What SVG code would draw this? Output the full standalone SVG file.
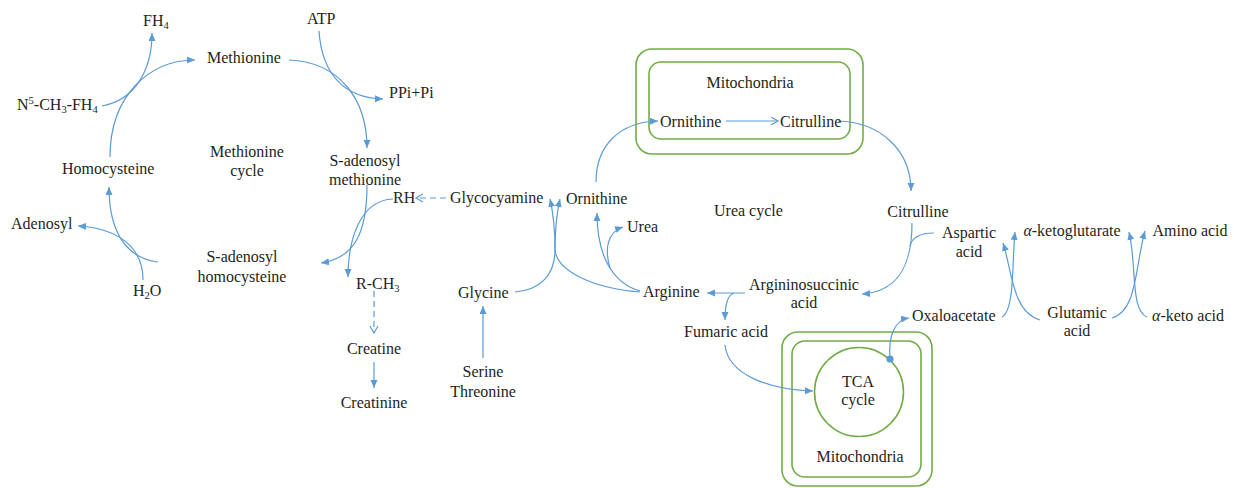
<svg xmlns="http://www.w3.org/2000/svg" width="1234" height="488" viewBox="0 0 1234 488">
<defs>
<style>
text{font-family:"Liberation Serif","Times New Roman",serif;font-size:16px;fill:#231f20}
.m{text-anchor:middle}
.c{fill:none;stroke:#5b9bd5;stroke-width:1.2}
.d{stroke-dasharray:6,4}
.g{fill:none;stroke:#70ad47;stroke-width:1.6}
.s{font-size:10.5px}
</style>
<marker id="a" markerUnits="userSpaceOnUse" markerWidth="9" markerHeight="8" refX="8" refY="3.5" orient="auto"><path d="M0,0 L8,3.5 L0,7 z" fill="#5b9bd5"/></marker>
<marker id="o" markerUnits="userSpaceOnUse" markerWidth="10" markerHeight="10" refX="8" refY="4.5" orient="auto"><path d="M1,0.5 L8,4.5 L1,8.5" fill="none" stroke="#5b9bd5" stroke-width="1.2"/></marker>
<marker id="dot" markerUnits="userSpaceOnUse" markerWidth="10" markerHeight="10" refX="5" refY="5" orient="auto"><circle cx="5" cy="5" r="3.6" fill="#5b9bd5"/></marker>
</defs>

<g id="mito-top">
<rect class="g" x="636" y="49" width="227" height="105" rx="16"/>
<rect class="g" x="649" y="62" width="201" height="77" rx="12"/>
<text class="m" x="750" y="88">Mitochondria</text>
</g>
<g id="mito-bottom">
<rect class="g" x="782" y="332" width="150" height="154" rx="16"/>
<rect class="g" x="792" y="341" width="129" height="136" rx="13"/>
<text class="m" x="860" y="462">Mitochondria</text>
</g>
<g id="tca">
<circle class="g" cx="859" cy="392" r="44.5"/>
<text class="m" x="858" y="387">TCA</text>
<text class="m" x="858" y="405">cycle</text>
</g>

<g id="connectors">
<path class="c" marker-end="url(#a)" d="M102,106 C135,100 152,70 152,33"/>
<path class="c" marker-end="url(#a)" d="M110,157 C110,95 150,60 195,60"/>
<path class="c" marker-end="url(#a)" d="M289,60 C340,62 367,100 367,148"/>
<path class="c" marker-end="url(#a)" d="M319,31 C322,75 345,98 383,99"/>
<path class="c" marker-end="url(#a)" d="M367,185 C367,232 355,258 321,263"/>
<path class="c" marker-end="url(#a)" d="M393,199 C360,200 348,240 348,277"/>
<path class="c d" marker-end="url(#o)" d="M446,198 L416,198"/>
<path class="c d" marker-end="url(#o)" d="M374,291 L374,333"/>
<path class="c" marker-end="url(#a)" d="M374,362 L374,388"/>
<path class="c" marker-end="url(#a)" d="M158,262 C125,258 109,230 109,187"/>
<path class="c" marker-end="url(#a)" d="M143,280 C143,245 115,228 78,226"/>
<path class="c" marker-end="url(#a)" d="M483,358 L483,306"/>
<path class="c" marker-end="url(#a)" d="M515,292 C540,290 555,275 555,250 C555,228 553,212 550,199"/>
<path class="c" marker-end="url(#a)" d="M640,292 C590,288 557,270 555,250 C555,228 557,212 560,199"/>
<path class="c" marker-end="url(#a)" d="M640,291 C612,283 597,255 597,213"/>
<path class="c" marker-end="url(#a)" d="M610,268 C604,248 608,232 623,227"/>
<path class="c" marker-end="url(#a)" d="M596,182 C596,145 620,122 658,121"/>
<path class="c" marker-end="url(#o)" d="M726,121 L778,121"/>
<path class="c" marker-end="url(#a)" d="M838,121 C880,122 911,150 911,191"/>
<path class="c" marker-end="url(#a)" d="M912,223 C912,270 895,292 862,294"/>
<path class="c" d="M934,233 C920,233 912,238 910,246"/>
<path class="c" marker-end="url(#a)" d="M745,293 L707,293"/>
<path class="c" marker-end="url(#a)" d="M734,293 C727,295 725,305 725,320"/>
<path class="c" marker-end="url(#a)" d="M725,345 C728,375 770,390 813,391"/>
<path class="c" marker-start="url(#dot)" marker-end="url(#a)" d="M890,359 C888,335 895,320 909,318"/>
<path class="c" marker-end="url(#a)" d="M1002,317 C1015,310 1012,260 1015,232"/>
<path class="c" marker-end="url(#a)" d="M1040,320 C1012,312 1012,270 1003,243"/>
<path class="c" marker-end="url(#a)" d="M1112,318 C1138,310 1135,265 1145,231"/>
<path class="c" marker-end="url(#a)" d="M1147,317 C1130,310 1137,265 1129,232"/>
</g>

<g id="n-fh4"><text x="143" y="26">FH<tspan class="s" dy="3">4</tspan></text></g>
<g id="n-atp"><text x="307" y="24">ATP</text></g>
<g id="n-methionine"><text x="207" y="63">Methionine</text></g>
<g id="n-ppi"><text x="389" y="98">PPi+Pi</text></g>
<g id="n-n5"><text x="17" y="110">N<tspan class="s" dy="-6">5</tspan><tspan dy="6">-CH</tspan><tspan class="s" dy="3">3</tspan><tspan dy="-3">-FH</tspan><tspan class="s" dy="3">4</tspan></text></g>
<g id="n-cycle"><text class="m" x="247" y="157">Methionine</text><text class="m" x="247" y="176">cycle</text></g>
<g id="n-homocysteine"><text x="62" y="174">Homocysteine</text></g>
<g id="n-sam"><text class="m" x="365" y="166">S-adenosyl</text><text class="m" x="365" y="185">methionine</text></g>
<g id="n-rh"><text x="393" y="203">RH</text></g>
<g id="n-adenosyl"><text x="11" y="229">Adenosyl</text></g>
<g id="n-sah"><text class="m" x="242" y="262">S-adenosyl</text><text class="m" x="242" y="282">homocysteine</text></g>
<g id="n-h2o"><text x="133" y="296">H<tspan class="s" dy="3">2</tspan><tspan dy="-3">O</tspan></text></g>
<g id="n-rch3"><text x="356" y="289">R-CH<tspan class="s" dy="3">3</tspan></text></g>
<g id="n-glycocyamine"><text x="450" y="203">Glycocyamine</text></g>
<g id="n-ornithine"><text x="566" y="204">Ornithine</text></g>
<g id="n-urea"><text x="627" y="232">Urea</text></g>
<g id="n-ureacycle"><text x="714" y="216">Urea cycle</text></g>
<g id="n-glycine"><text x="458" y="298">Glycine</text></g>
<g id="n-creatine"><text class="m" x="374" y="354">Creatine</text></g>
<g id="n-creatinine"><text class="m" x="374" y="408">Creatinine</text></g>
<g id="n-serine"><text class="m" x="483" y="377">Serine</text><text class="m" x="483" y="397">Threonine</text></g>
<g id="n-orn-mito"><text x="660" y="127">Ornithine</text></g>
<g id="n-cit-mito"><text x="780" y="127">Citrulline</text></g>
<g id="n-citrulline"><text class="m" x="918" y="217">Citrulline</text></g>
<g id="n-arginine"><text x="643" y="297">Arginine</text></g>
<g id="n-argsucc"><text class="m" x="804" y="290">Argininosuccinic</text><text class="m" x="804" y="308">acid</text></g>
<g id="n-fumaric"><text class="m" x="726" y="337">Fumaric acid</text></g>
<g id="n-aspartic"><text class="m" x="969" y="238">Aspartic</text><text class="m" x="969" y="257">acid</text></g>
<g id="n-akg"><text class="m" x="1072" y="236"><tspan font-style="italic">α</tspan>-ketoglutarate</text></g>
<g id="n-amino"><text class="m" x="1190" y="236">Amino acid</text></g>
<g id="n-oxaloacetate"><text x="912" y="321">Oxaloacetate</text></g>
<g id="n-glutamic"><text class="m" x="1077" y="318">Glutamic</text><text class="m" x="1077" y="336">acid</text></g>
<g id="n-aketo"><text class="m" x="1188" y="321"><tspan font-style="italic">α</tspan>-keto acid</text></g>
</svg>
